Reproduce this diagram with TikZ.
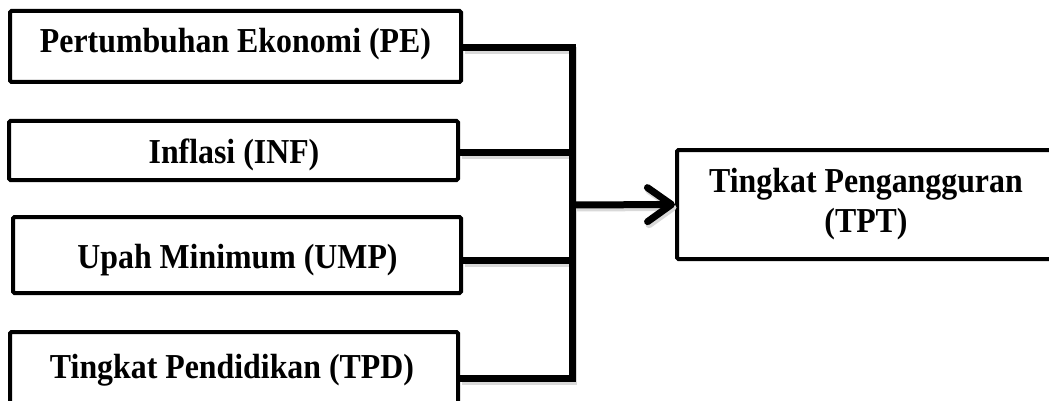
\documentclass[tikz,border=0pt]{standalone}
\usepackage{fontspec}
\setmainfont{Liberation Serif}[FakeStretch=0.91]
\usetikzlibrary{arrows.meta}
\begin{document}
\begin{tikzpicture}[x=1pt,y=-1pt,
  box/.style={draw=black, line width=4pt, rounded corners=1.5pt, fill=white, inner sep=0pt},
  lbl/.style={font=\fontsize{35}{40}\selectfont\bfseries, inner sep=0pt},
  conn/.style={line width=7pt},
  shade/.style={draw=black!15, line width=7pt, transform canvas={shift={(1.5,3)}}},
  tip/.style={-{Straight Barb[length=24pt, width=34pt, line cap=round, line join=round]}},
]
\useasboundingbox (0,0) rectangle (1049,401);
\clip (0,0) rectangle (1049,401);
\fill[white] (0,0) rectangle (1049,401);
% boxes
\node[box, minimum width=451pt, minimum height=71pt] (b1) at (235.5,46.5) {};
\node[box, minimum width=449pt, minimum height=59pt] (b2) at (233.5,150.5) {};
\node[box, minimum width=448pt, minimum height=76pt] (b3) at (237,255) {};
\node[box, minimum width=448pt, minimum height=96pt] (b4) at (234,380) {};
\node[box, minimum width=378pt, minimum height=109pt] (tpt) at (866,204.5) {};
% labels
\node[lbl, anchor=base] (t1) at (235.5,53) {Pertumbuhan Ekonomi (PE)};
\node[lbl, anchor=base] (t2) at (234,163) {Inflasi (INF)};
\node[lbl, anchor=base] (t3) at (237.5,268) {Upah Minimum (UMP)};
\node[lbl, anchor=base] (t4) at (232,378) {Tingkat Pendidikan (TPD)};
\node[lbl, align=center] (t5) at (866,204.5) {Tingkat Pengangguran\\(TPT)};
% junction points
\coordinate (jt) at (572,48);
\coordinate (j2) at (572,152);
\coordinate (j3) at (572,260);
\coordinate (jb) at (572,378);
\coordinate (ja) at (572,205);
% soft shadows
\draw[shade] (b1.east |- jt) -- (jt) -- (jb) -- (b4.east |- jb);
\draw[shade] (b2.east |- j2) -- (j2);
\draw[shade] (b3.east |- j3) -- (j3);
\draw[shade, tip] (ja) -- (tpt.west);
% connectors
\draw[conn] (b1.east |- jt) -- (jt) -- (jb) -- (b4.east |- jb);
\draw[conn] (b2.east |- j2) -- (j2);
\draw[conn] (b3.east |- j3) -- (j3);
\draw[conn, tip] (ja) -- (tpt.west);
\end{tikzpicture}
\end{document}
